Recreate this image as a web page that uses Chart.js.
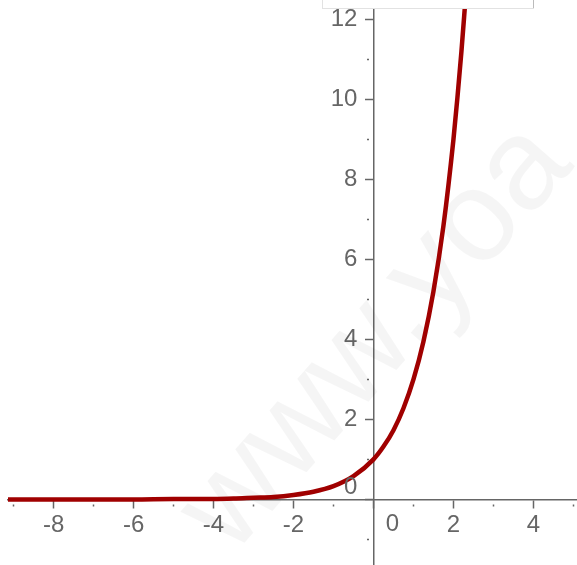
<!DOCTYPE html>
<html>
<head>
<meta charset="utf-8">
<script src="https://cdn.jsdelivr.net/npm/chart.js@4"></script>
<style>
  body { margin: 0; background: #fff; }
  #wrap { position: relative; width: 577px; height: 565px; }
  #bar { position: absolute; left: 322px; top: -2px; width: 210px; height: 9px; border: 1px solid #e2e2e2; }
  #bar2 { position: absolute; left: 533px; top: 0; width: 1px; height: 8px; background: #bbb; }
</style>
</head>
<body>
<div id="wrap">
  <canvas id="myChart" width="577" height="565"></canvas>
  <div id="bar"></div>
  <div id="bar2"></div>
</div>
<script>
  // points
  const xValues = [-9.15, -8, -7, -6, -5, -4, -3.5, -3, -2.5, -2, -1.5, -1, -0.5, 0, 0.25, 0.5, 0.75, 1, 1.25, 1.5, 1.75, 2, 2.1, 2.2, 2.3];
  const yValues = [0, 0, 0, 0, 0.01, 0.01, 0.02, 0.04, 0.06, 0.11, 0.19, 0.33, 0.58, 1, 1.32, 1.73, 2.28, 3, 3.95, 5.2, 6.84, 9, 10.05, 11.2, 12.5];
  const xLabels = [-8, -6, -4, -2, 2, 4];
  const yLabels = [2, 4, 6, 8, 10, 12];

  const points = xValues.map((x, i) => ({ x: x, y: yValues[i] }));

  const axisColor = '#666';
  const labelColor = '#666';
  const labelFont = { family: 'Liberation Sans, Arial, sans-serif', size: 24 };

  // odd values get a small dot instead of a full tick
  function tickDash(ctx) {
    return (ctx.tick && ctx.tick.value % 2 !== 0) ? [0, 4, 2, 10] : [];
  }

  const extras = {
    id: 'extras',
    beforeDraw(chart) {
      // push the y labels off the axis line
      const items = chart.scales.y.getLabelItems();
      items.forEach(it => {
        if (!it._moved) {
          it.options.translation[0] -= 16;
          it._moved = true;
        }
      });
    },
    beforeDatasetsDraw(chart) {
      // faint watermark
      const c = chart.ctx;
      c.save();
      c.translate(232, 557);
      c.rotate(-0.85);
      c.font = '130px Liberation Sans, Arial, sans-serif';
      c.fillStyle = 'rgba(0,0,0,0.04)';
      c.fillText('www.yoa', 0, 0);
      c.restore();
    },
    afterDraw(chart) {
      // the two "0" labels sit off the axes
      const c = chart.ctx;
      const xs = chart.scales.x, ys = chart.scales.y;
      const ox = xs.getPixelForValue(0), oy = ys.getPixelForValue(0);
      c.save();
      c.font = '24px Liberation Sans, Arial, sans-serif';
      c.fillStyle = labelColor;
      c.textAlign = 'center';
      c.textBaseline = 'middle';
      c.fillText('0', ox + 19, oy + 25);
      c.textAlign = 'right';
      c.fillText('0', ox - 16, oy - 12);
      c.restore();
    }
  };

  const config = {
    type: 'scatter',
    data: {
      datasets: [{
        data: points,
        showLine: true,
        borderColor: '#a00000',
        borderWidth: 4.5,
        pointRadius: 0,
        cubicInterpolationMode: 'monotone'
      }]
    },
    options: {
      responsive: false,
      animation: false,
      layout: { padding: { left: 8, top: 9, right: 0, bottom: 0 } },
      plugins: { legend: { display: false }, tooltip: { enabled: false } },
      scales: {
        x: {
          type: 'linear',
          position: { y: 0 },
          min: -9.14,
          max: 5.09,
          afterFit: (s) => { s.height = 0; s.paddingLeft = 0; s.paddingRight = 0; },
          border: { color: axisColor, width: 1.5 },
          grid: { drawOnChartArea: false, tickLength: 8, tickColor: axisColor, tickWidth: 1.5, tickBorderDash: tickDash },
          ticks: {
            stepSize: 1,
            includeBounds: false,
            autoSkip: false,
            maxRotation: 0,
            padding: 4,
            color: labelColor,
            font: labelFont,
            callback: (v) => xLabels.includes(v) ? String(v) : ''
          }
        },
        y: {
          type: 'linear',
          position: { x: 0 },
          min: -1.64,
          max: 12.26,
          afterFit: (s) => { s.width = 0; s.paddingTop = 0; s.paddingBottom = 0; },
          border: { color: axisColor, width: 1.5 },
          grid: { drawOnChartArea: false, tickLength: 8, tickColor: axisColor, tickWidth: 1.5, tickBorderDash: tickDash },
          ticks: {
            stepSize: 1,
            includeBounds: false,
            autoSkip: false,
            padding: 8,
            color: labelColor,
            font: labelFont,
            callback: (v) => yLabels.includes(v) ? String(v) : ''
          }
        }
      }
    },
    plugins: [extras]
  };

  const myChart = new Chart(document.getElementById('myChart'), config);
</script>
</body>
</html>
